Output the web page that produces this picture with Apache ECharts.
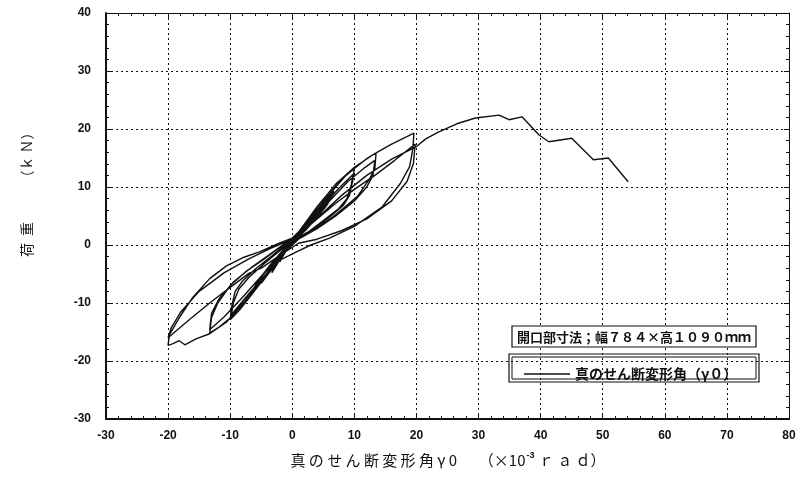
<!DOCTYPE html>
<html>
<head>
<meta charset="utf-8">
<script src="https://cdn.jsdelivr.net/npm/echarts@6/dist/echarts.min.js"></script>
<style>
  html, body { margin: 0; padding: 0; background: #fff; }
  #chart { width: 800px; height: 478px; }
</style>
</head>
<body>
<div id="chart"></div>
<script>
// tick range
const xTicks = { min: -30, max: 80, step: 10 };
const yTicks = { min: -30, max: 40, step: 10 };

// hysteresis path, cycle by cycle [gamma0 (x10^-3 rad), load (kN)]
const cycle2 = [
  [0, 0], [1, 1.6], [2, 3.2], [1.5, 2.1], [0.8, 1.3], [0, 0.8], [-1, -0.9], [-2, -2.9],
  [-1.5, -1.9], [-0.7, -0.5], [0, 0.9], [1, 1.8], [2, 3], [1.4, 1.9], [0.6, 1.2], [0, 0.8],
  [-1, -1], [-2, -2.7], [-1.4, -1.6], [-0.6, -0.3], [0, 1]
];
const cycle3 = [
  [1.5, 2.6], [3.3, 5], [2.6, 3.6], [1.5, 2.1], [0.3, 1.1], [-1, -0.7], [-2.2, -2.9], [-3.3, -4.8],
  [-2.6, -3.4], [-1.5, -1.6], [-0.4, 0.4], [0.4, 1.4], [2, 3.3], [3.3, 4.7], [2.5, 3.3], [1.2, 1.8],
  [0, 0.9], [-1.5, -1.5], [-3.3, -4.5], [-2.4, -2.9], [-1.2, -0.9], [0, 1]
];
const cycle5 = [
  [2, 3.2], [3.5, 5.3], [5, 7.2], [4.2, 5.6], [2.8, 3.6], [1.2, 1.8], [0, 0.9], [-1.5, -1.3],
  [-3, -3.6], [-5, -6.6], [-4.2, -5], [-2.8, -3], [-1.2, -0.8], [0, 1], [2.5, 3.8], [5, 6.8],
  [4, 5.1], [2.5, 3.1], [1, 1.6], [-0.2, 0.7], [-2, -2.1], [-5, -6.3], [-3.9, -4.6], [-2.4, -2.4],
  [-1, -0.3], [0.2, 1.2], [2.8, 4.3], [4.9, 7], [4.1, 5.4], [2.6, 3.4], [0.8, 1.4], [-1.8, -1.8],
  [-3.4, -4.3], [-4.9, -6.5], [-4, -4.8], [-2.6, -2.7], [-0.8, -0.2], [0.3, 1.1]
];
const cycle7 = [
  [2.5, 3.9], [4.5, 6.6], [6.7, 9.3], [5.8, 7.5], [4.2, 5.1], [2.2, 2.6], [0.5, 1.1], [-1.5, -1],
  [-3.5, -3.9], [-5, -6.2], [-6.7, -8.6], [-5.8, -6.8], [-4, -4.1], [-2, -1.5], [-0.3, 0.6], [1, 1.9],
  [3, 4.4], [5, 6.9], [6.6, 8.8], [5.6, 6.9], [3.8, 4.5], [1.8, 2.2], [0.2, 0.9], [-2, -1.8],
  [-4.5, -5.4], [-6.6, -8.2], [-5.6, -6.3], [-3.6, -3.5], [-1.5, -0.9], [0, 1],
  [2.2, 3.5], [4.8, 7.2], [6.5, 9], [5.3, 6.8], [3.4, 4.2], [1.4, 1.9], [-0.4, 0.6], [-2.6, -2.6],
  [-4.8, -6], [-6.5, -8.4], [-5.3, -6.1], [-3.2, -3], [-1.2, -0.5], [0.2, 1]
];
const cycle10 = [
  [2, 3.5], [4.5, 6.8], [7, 10], [8.8, 12.2], [10, 13.4], [9.8, 11.4], [9.2, 8.5], [8.2, 6.8],
  [6, 4.8], [3.5, 2.8], [1, 1.3], [-1.5, -1.5], [-4, -5], [-6.5, -8.5], [-8.5, -11.2], [-10, -12.9],
  [-9.8, -10.8], [-9.2, -8], [-8, -6.2], [-5.8, -4], [-3.2, -1.8], [-0.5, 0.7],
  [2.5, 3.8], [5, 6.8], [7.5, 9.8], [9.8, 12.2], [9.5, 10.4], [8.8, 8], [7.5, 6.3], [5, 4.2],
  [2.5, 2.2], [0.3, 1], [-2, -2.2], [-4.5, -5.4], [-7, -8.4], [-9.8, -12], [-9.5, -10], [-8.6, -7.6],
  [-7, -5.6], [-4.5, -3.2], [-2, -1], [0.2, 1]
];
const cycle13 = [
  [2, 3.4], [5, 7.5], [8, 11.4], [10, 13.2], [12, 14.9], [13.5, 15.9], [13.3, 13.2], [12.4, 11.3],
  [10.5, 8.4], [9, 7], [6.5, 4.8], [3.5, 2.6], [1, 1.2], [-1.5, -1.3], [-4, -5], [-7, -9],
  [-10, -12.6], [-12, -14.3], [-13.3, -15.2], [-13, -12.5], [-12, -10], [-10, -7], [-7.5, -4.6],
  [-4.5, -2.4], [-1.5, 0], [0.5, 1.4],
  [3, 4.4], [6, 7.6], [9, 11], [11.5, 13.2], [13.3, 14.6], [13, 12], [12, 10], [10, 7.6], [7, 5],
  [4, 2.8], [1, 1], [-2, -2], [-5, -5.4], [-8, -9], [-11, -12.4], [-13.3, -14.6], [-13, -11.8],
  [-11.8, -9.3], [-9.5, -6.4], [-6.5, -3.8], [-3.5, -1.5], [-0.5, 0.8]
];
const cycle20 = [
  [0.5, 1.5], [4, 6.6], [7, 10.5], [10, 13.4], [13.5, 15.9], [16, 17.4], [19.6, 19.3],
  [19.4, 16.5], [18.9, 13.5], [17.4, 10.6], [14.5, 6.6], [10, 3.2], [6, 1.2], [3, 0], [1, -1],
  [-2, -2.6], [-4.5, -5.8], [-8, -9.8], [-10.5, -13.2], [-13.3, -15.3], [-15.5, -16.2],
  [-17.3, -17.2], [-18.2, -16.5], [-19.2, -17], [-20, -17.3],
  [-19.8, -15.5], [-18, -12.2], [-16, -9], [-13.3, -5.8], [-10.6, -3.6], [-8, -2.2],
  [-5.3, -1.2], [-2.1, 0.3], [0, 1.2],
  [3, 3.6], [7, 7.2], [10, 9.6], [13.3, 12], [16.5, 14.6], [19.8, 17.4],
  [19.5, 14], [18.5, 11], [16, 7.6], [12, 4.5], [8, 2.5], [4, 1], [1, 0.3],
  [-2, -1.8], [-5, -4], [-7, -4.9], [-10, -7.3], [-13.3, -10], [-16.5, -12.8], [-20, -16],
  [-19.5, -14.3], [-18, -11.6], [-15, -8], [-11, -4.8], [-7, -2.4], [-3.5, -0.6], [0, 1]
];
const pushover = [
  [4, 4.6], [8, 8.6], [12, 12], [16, 14.8], [19.9, 16.9], [21.5, 18.3], [23.6, 19.5],
  [26.5, 20.9], [29.5, 21.9], [33.3, 22.4], [34.9, 21.6], [37, 22.1], [39.7, 19],
  [41.3, 17.8], [45, 18.4], [48.5, 14.7], [50.9, 15], [54.1, 10.9]
];

const seriesName = '真のせん断変形角（γ０）';
const noteText = '開口部寸法；幅７８４×高１０９０ｍｍ';

const path = [].concat(cycle2, cycle3, cycle5, cycle7, cycle10, cycle13, cycle20, pushover);

const chart = echarts.init(document.getElementById('chart'), null, { renderer: 'canvas' });

const cjk = 'Noto Sans CJK JP';
const labelFont = {
  color: '#111',
  fontFamily: 'Liberation Sans, Arial, sans-serif',
  fontWeight: 'bold',
  fontSize: 12,
};
const frameAxis = (extra) => Object.assign({
  type: 'value',
  axisLine: { show: true, onZero: false, lineStyle: { color: '#111', width: 2 } },
  axisTick: { show: true, inside: true, length: 5, lineStyle: { color: '#111' } },
  minorTick: { show: true, splitNumber: 5, length: 3, lineStyle: { color: '#111' } },
  splitLine: { show: false },
}, extra);

chart.setOption({
  animation: false,
  backgroundColor: '#fff',
  grid: { left: 106, right: 11, top: 13, bottom: 59 },
  legend: {
    left: 519, top: 362,
    itemWidth: 46, itemHeight: 1.5, itemGap: 0,
    textStyle: { color: '#111', fontSize: 14, fontFamily: cjk, fontWeight: 'bold', padding: [0, 0, 0, 0] },
    data: [{ name: seriesName, icon: 'rect' }],
  },
  xAxis: [
    frameAxis({
      min: xTicks.min, max: xTicks.max, interval: xTicks.step,
      axisLabel: Object.assign({ margin: 11 }, labelFont),
      splitLine: { show: true, lineStyle: { color: '#111', type: [2, 3], width: 1 } },
    }),
    frameAxis({
      position: 'top', min: xTicks.min, max: xTicks.max, interval: xTicks.step,
      axisLine: { show: true, onZero: false, lineStyle: { color: '#111', width: 1 } },
      axisLabel: { show: false },
    }),
  ],
  yAxis: [
    frameAxis({
      min: yTicks.min, max: yTicks.max, interval: yTicks.step,
      axisLabel: Object.assign({ margin: 15 }, labelFont),
      splitLine: { show: true, lineStyle: { color: '#111', type: [2, 3], width: 1 } },
    }),
    frameAxis({
      position: 'right', min: yTicks.min, max: yTicks.max, interval: yTicks.step,
      axisLine: { show: true, onZero: false, lineStyle: { color: '#111', width: 1 } },
      axisLabel: { show: false },
    }),
  ],
  graphic: [
    {
      type: 'text', x: 27, y: 250, rotation: Math.PI / 2,
      style: { text: '荷', fill: '#111', fontSize: 14, fontFamily: cjk, align: 'center', verticalAlign: 'middle' },
    },
    {
      type: 'text', x: 27, y: 229, rotation: Math.PI / 2,
      style: { text: '重', fill: '#111', fontSize: 14, fontFamily: cjk, align: 'center', verticalAlign: 'middle' },
    },
    {
      type: 'text', x: 27, y: 155, rotation: Math.PI / 2,
      style: { text: '（ｋ Ｎ）', fill: '#111', fontSize: 14, fontFamily: cjk, align: 'center', verticalAlign: 'middle' },
    },
    {
      type: 'text', x: 448, y: 460,
      style: {
        text: '{a|真 の せ ん 断 変 形 角 γ 0 　 （×10}{s|-3}{a| ｒ ａ ｄ）}',
        align: 'center', verticalAlign: 'middle',
        rich: {
          a: { fontSize: 15, fill: '#111', fontFamily: cjk },
          s: { fontSize: 9, fill: '#111', fontFamily: 'Liberation Sans', fontWeight: 'bold', verticalAlign: 'top', padding: [0, 1, 8, 1] },
        },
      },
    },
    {
      type: 'rect', shape: { x: 512, y: 326, width: 244, height: 21 },
      style: { fill: '#fff', stroke: '#111', lineWidth: 1.2 }, z: 10,
    },
    {
      type: 'text', x: 634, y: 337, z: 11,
      style: {
        text: noteText, fill: '#111', fontSize: 13, fontWeight: 'bold',
        fontFamily: cjk, align: 'center', verticalAlign: 'middle',
      },
    },
    {
      type: 'rect', shape: { x: 509, y: 354, width: 250, height: 28 },
      style: { fill: '#fff', stroke: '#111', lineWidth: 1.2 }, z: 0,
    },
    {
      type: 'rect', shape: { x: 512, y: 357, width: 244, height: 22 },
      style: { fill: 'none', stroke: '#111', lineWidth: 1 }, z: 0,
    },
  ],
  series: [
    {
      name: seriesName,
      type: 'line',
      xAxisIndex: 0, yAxisIndex: 0,
      data: path,
      showSymbol: false,
      smooth: false,
      lineStyle: { color: '#111', width: 1.4 },
      itemStyle: { color: '#111' },
      z: 5,
    },
  ],
});
</script>
</body>
</html>
